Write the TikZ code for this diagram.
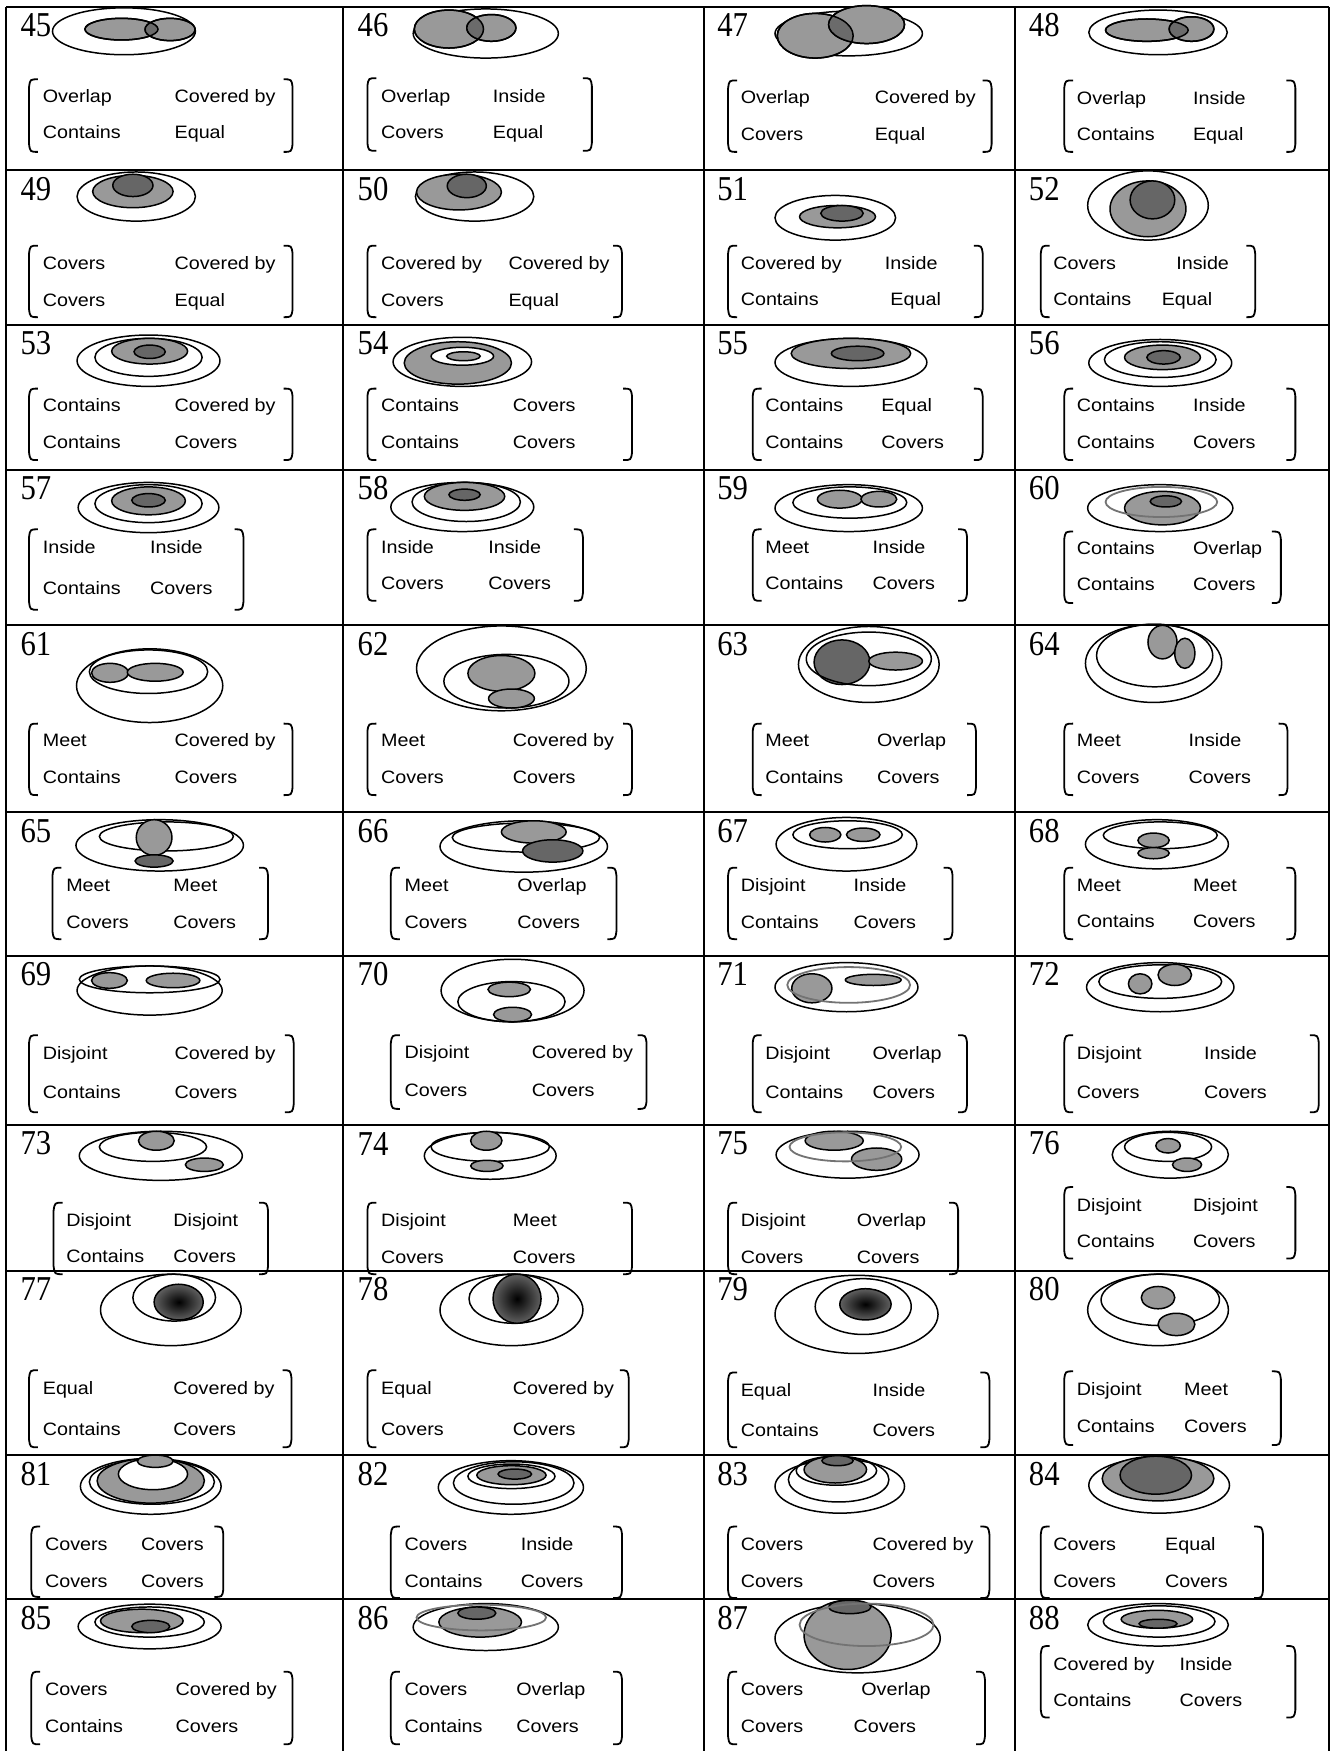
\documentclass[tikz,border=0pt]{standalone}
\usepackage{fontspec}
\newfontfamily\labfont[FakeStretch=1.1]{Liberation Sans}
\newfontfamily\numfont[FakeStretch=0.88]{Liberation Serif}
\tikzset{
 gridline/.style={line width=1pt},
 eo/.style={draw=black,line width=0.75pt},
 eg/.style={draw=black,fill=black!40,line width=0.75pt},
 ed/.style={draw=black,fill=black!60,line width=0.75pt},
 ew/.style={draw=black,fill=white,line width=0.75pt},
 ethin/.style={draw=black!55,line width=0.9pt},
 esh/.style={draw=black,line width=0.75pt,inner color=black,outer color=black!62},
 numst/.style={inner sep=0pt,anchor=west,font=\numfont\fontsize{17.5}{18}\selectfont},
 labst/.style={inner sep=0pt,anchor=base west,font=\labfont\fontsize{9}{10}\selectfont},
 brkst/.style={line width=0.9pt},
}
\newcommand\el[5][eo]{\path[#1] (#2,#3) ellipse [x radius=#4, y radius=#5];}
\newcommand\ovlp[8]{%
 \el[eg]{#1}{#2}{#3}{#4}\el[eg]{#5}{#6}{#7}{#8}%
 \begin{scope}\clip (#1,#2) ellipse [x radius=#3, y radius=#4];
 \fill[black!58] (#5,#6) ellipse [x radius=#7, y radius=#8];\end{scope}%
 \el{#1}{#2}{#3}{#4}\el{#5}{#6}{#7}{#8}}
\newcommand\cnum[3]{\node[numst] (n#1) at (#2,#3) {#1};}
\newcommand\dshift{0}
\newcommand\reltext[9]{%
 \node[labst] (t#1a) at (#2,#4+5.7) {#6};
 \node[labst] (t#1b) at (#3,#4+5.7) {#7};
 \node[labst] (t#1c) at (#2,#5+5.7) {#8};
 \node[labst] (t#1d) at (#3+\dshift,#5+5.7) {#9};}
\newcommand\brk[4]{%
 \draw[brkst] (#1+8,#3) .. controls (#1+1,#3) .. (#1,#3+7) -- (#1,#4-7) .. controls (#1+1,#4) .. (#1+8,#4);
 \draw[brkst] (#2-8,#3) .. controls (#2-1,#3) .. (#2,#3+7) -- (#2,#4-7) .. controls (#2-1,#4) .. (#2-8,#4);}
\begin{document}
\begin{tikzpicture}[x=0.56pt,y=-0.56pt]
\useasboundingbox (0,0) rectangle (1194,1568);
% grid
\foreach \gx in {5.4,307,630,909,1190}{\draw[gridline] (\gx,6) -- (\gx,1568);}
\foreach \gy in {6,152.3,291,420.5,560,727.3,856.3,1007.3,1138,1303.3,1432.3}{\draw[gridline] (5.4,\gy) -- (1190,\gy);}
% numbers
\foreach \nn/\nx/\ny in {45/18/22.5,46/320/22.5,47/642/22.5,48/921/22.5,
 49/18/169,50/320/169,51/642/169,52/921/169,
 53/18/307.5,54/320/307.5,55/642/307.5,56/921/307.5,
 57/18/437,58/320/437,59/642/437,60/921/437,
 61/18/576.5,62/320/576.5,63/642/576.5,64/921/576.5,
 65/18/744,66/320/744,67/642/744,68/921/744,
 69/18/872.5,70/320/872.5,71/642/872.5,72/921/872.5,
 73/18/1024,74/320/1024,75/642/1024,76/921/1024,
 77/18/1154.5,78/320/1154.5,79/642/1154.5,80/921/1154.5,
 81/18/1320,82/320/1320,83/642/1320,84/921/1320,
 85/18/1449,86/320/1449,87/642/1449,88/921/1449}{\cnum{\nn}{\nx}{\ny}}
% ---- row 1
\el{111}{28}{64}{21}\ovlp{108.8}{26.1}{32.7}{9.7}{152.3}{26.4}{22.4}{10}
\el{435}{30}{65}{22}\ovlp{402}{26}{31}{17}{440}{25}{22}{12}
\el{760}{30}{66}{20}\ovlp{730}{32}{34}{20}{776}{22}{34}{17}
\el{1037}{29}{62}{20}\ovlp{1027}{27}{37}{10}{1067}{26}{20}{11}
\reltext{45}{38}{156}{86}{118}{Overlap}{Covered by}{Contains}{Equal}\brk{26}{262}{71}{136}
\reltext{46}{341}{441}{86}{118}{Overlap}{Inside}{Covers}{Equal}\brk{329}{530}{70}{135}
\reltext{47}{663}{783}{87}{120}{Overlap}{Covered by}{Covers}{Equal}\brk{652}{888}{72}{136}
\reltext{48}{964}{1068}{88}{120}{Overlap}{Inside}{Contains}{Equal}\brk{953}{1160}{72}{136}
% ---- row 2
\el{122}{176}{53}{22}\el[eg]{119}{171.5}{36}{14.5}\el[ed]{119}{166}{18}{10}
\el{425}{176}{53}{22}\el[eg]{411}{172}{38}{16}\el[ed]{418}{166.5}{17.5}{10.5}
\el{748}{195}{54}{20}\el[eg]{750}{194}{34}{10}\el[ed]{754}{191}{19}{7}
\el{1028}{184}{54}{31}\el[eg]{1028}{187}{34}{25}\el[ed]{1032}{179}{20}{17}
\reltext{49}{38}{156}{236}{269}{Covers}{Covered by}{Covers}{Equal}\brk{26}{262}{220}{284}
\reltext{50}{341}{455}{236}{269}{Covered by}{Covered by}{Covers}{Equal}\brk{329}{557}{220}{284}
{\renewcommand\dshift{5}\reltext{51}{663}{792}{236}{268}{Covered by}{Inside}{Contains}{Equal}}\brk{652}{880}{220}{284}
{\renewcommand\dshift{-13}\reltext{52}{943}{1053}{236}{268}{Covers}{Inside}{Contains}{Equal}}\brk{932}{1124}{220}{284}
% ---- row 3
\el{133}{323}{64}{23}\el{133}{320}{48}{17}\el[eg]{134}{314.5}{34}{11.5}\el[ed]{134}{315}{14}{6}
\el{414}{324}{62}{22}\el[eg]{410}{325}{48}{19}\el[ew]{414}{319}{28}{8}\el[eg]{415}{319}{15}{4}
\el{762}{324.5}{68}{21.5}\el[eg]{762}{316.5}{53.5}{13.5}\el[ed]{768}{316.5}{23.5}{6.5}
\el{1039}{325}{64}{21}\el{1039}{322}{50}{16}\el[eg]{1041}{320}{34}{11}\el[ed]{1042}{320}{15}{6}
\reltext{53}{38}{156}{363}{396}{Contains}{Covered by}{Contains}{Covers}\brk{26}{262}{348}{412}
\reltext{54}{341}{459}{363}{396}{Contains}{Covers}{Contains}{Covers}\brk{329}{566}{348}{412}
\reltext{55}{685}{789}{363}{396}{Contains}{Equal}{Contains}{Covers}\brk{674}{880}{348}{412}
\reltext{56}{964}{1068}{363}{396}{Contains}{Inside}{Contains}{Covers}\brk{953}{1160}{348}{412}
% ---- row 4
\el{133}{454.5}{63}{22.5}\el{133}{451}{48}{17}\el[eg]{133}{448.5}{33}{12.5}\el[ed]{133}{448}{15}{6}
\el{414}{454}{64}{22}\el{417.5}{449.5}{48.5}{17.5}\el[eg]{416}{444.5}{36}{12.5}\el[ed]{416}{443}{14}{5}
\el{760}{455}{66}{21}\el{761}{450}{51}{14}\el[eg]{752}{447}{20}{8}\el[eg]{787}{447}{16}{7}
\el{1039}{455}{65}{21}\el[eg]{1041}{455}{34}{15}\el[ed]{1044}{449}{14}{5}\el[ethin]{1040}{449.5}{50}{13.5}
\reltext{57}{38}{134}{490}{527}{Inside}{Inside}{Contains}{Covers}\brk{26}{218}{474}{546}
\reltext{58}{341}{437}{490}{522}{Inside}{Inside}{Covers}{Covers}\brk{329}{522}{474}{538}
\reltext{59}{685}{781}{490}{522}{Meet}{Inside}{Contains}{Covers}\brk{674}{866}{474}{538}
\reltext{60}{964}{1068}{491}{523}{Contains}{Overlap}{Contains}{Covers}\brk{953}{1147}{476}{540}
% ---- row 5
\el{134}{614}{65.5}{33}\el{133}{601.5}{53}{19.5}\el[eg]{98.5}{602.5}{16.5}{8.5}\el[eg]{139}{602}{25}{8}
\el{449}{598.5}{76}{38}\el{453.5}{610}{56}{24}\el[eg]{449}{603}{30}{16}\el[eg]{458}{625.5}{20.5}{8.5}
\el{778}{595}{63}{34}\el[ed]{754}{593}{25}{20}\el[eg]{802}{592}{24}{8}\el{778}{590}{56}{24}
\el{1033}{594}{61}{35}\el{1034}{587}{52}{28}\el[eg]{1041}{575}{13}{15}\el[eg]{1061}{585}{9}{13.5}
\reltext{61}{38}{156}{663}{696}{Meet}{Covered by}{Contains}{Covers}\brk{26}{262}{648}{712}
\reltext{62}{341}{459}{663}{696}{Meet}{Covered by}{Covers}{Covers}\brk{329}{566}{648}{712}
\reltext{63}{685}{785}{663}{696}{Meet}{Overlap}{Contains}{Covers}\brk{674}{874}{648}{712}
\reltext{64}{964}{1064}{663}{696}{Meet}{Inside}{Covers}{Covers}\brk{953}{1153}{648}{712}
% ---- row 6
\el{143}{757}{75}{23}\el{149}{749}{60}{13}\el[eg]{138}{750}{16}{16}\el[ed]{138}{771}{17}{5.5}
\el{469}{758}{75}{23}\el{471}{750}{66}{13}\el[eg]{478}{745}{29}{10}\el[ed]{495}{762}{27}{10}
\el{758}{756}{63}{24}\el{759}{747.5}{49}{12.5}\el[eg]{739}{747.5}{14}{6.5}\el[eg]{773}{747.5}{15}{6}
\el{1036}{756}{64}{22}\el{1039}{748}{51}{12}\el[eg]{1033}{752.5}{14}{6.5}\el[eg]{1033}{764}{14}{5}
\reltext{65}{59}{155}{793}{826}{Meet}{Meet}{Covers}{Covers}\brk{47}{240}{777}{841}
\reltext{66}{362}{463}{793}{826}{Meet}{Overlap}{Covers}{Covers}\brk{350}{552}{777}{841}
\reltext{67}{663}{764}{793}{826}{Disjoint}{Inside}{Contains}{Covers}\brk{652}{853}{777}{841}
\reltext{68}{964}{1068}{793}{825}{Meet}{Meet}{Contains}{Covers}\brk{953}{1160}{777}{841}
% ---- row 7
\el{134}{887}{65}{22}\el{134}{877}{63}{12}\el[eg]{98}{878}{16}{7}\el[eg]{155}{878}{24}{6.5}
\el{459}{887}{64}{28}\el{458}{897}{48}{18}\el[eg]{456}{886}{19}{6.5}\el[eg]{459}{908.5}{17}{6.5}
\el{758}{884}{64}{22}\el[eg]{727}{885}{18}{13}\el[eg]{782}{877.5}{25}{5}\el[ethin]{760}{882}{55}{16}
\el{1039}{884}{66}{22}\el{1039}{879}{55}{15}\el[eg]{1021}{881}{10.5}{9}\el[eg]{1052}{873}{15}{9.5}
\reltext{69}{38}{156}{943}{978}{Disjoint}{Covered by}{Contains}{Covers}\brk{26}{263}{927}{996}
\reltext{70}{362}{476}{942}{976}{Disjoint}{Covered by}{Covers}{Covers}\brk{350}{579}{927}{993}
\reltext{71}{685}{781}{943}{978}{Disjoint}{Overlap}{Contains}{Covers}\brk{674}{866}{927}{996}
\reltext{72}{964}{1078}{943}{978}{Disjoint}{Inside}{Covers}{Covers}\brk{953}{1181}{927}{996}
% ---- row 8
\el{144}{1035}{73}{22}\el{137}{1027}{48}{13}\el[eg]{140}{1021.5}{16}{8.5}\el[eg]{183}{1043}{17}{6}
\el{439}{1035}{59}{21}\el{439}{1027}{53}{13}\el[eg]{435.5}{1021.5}{14}{8.5}\el[eg]{436}{1044}{14.5}{5}
\el{759}{1034}{64}{21}\el[eg]{747}{1021.5}{26}{8.5}\el[eg]{785}{1038}{22.5}{10}\el[ethin]{757}{1027}{50}{13}
\el{1048}{1034}{52}{21}\el{1046}{1027}{39}{13}\el[eg]{1046}{1026}{11}{6.5}\el[eg]{1063}{1043}{13}{6}
\reltext{73}{59}{155}{1093}{1125}{Disjoint}{Disjoint}{Contains}{Covers}\brk{48}{240}{1077}{1141}
\reltext{74}{341}{459}{1093}{1126}{Disjoint}{Meet}{Covers}{Covers}\brk{329}{566}{1077}{1141}
\reltext{75}{663}{767}{1093}{1126}{Disjoint}{Overlap}{Covers}{Covers}\brk{652}{858}{1077}{1141}
\reltext{76}{964}{1068}{1079}{1111}{Disjoint}{Disjoint}{Contains}{Covers}\brk{953}{1160}{1063}{1127}
% ---- row 9
\el{153}{1173}{63}{32}\el{156}{1162}{37}{21}\el[esh]{160}{1166}{22}{16}
\el{458}{1173}{64}{32}\el{460}{1163}{40}{22}\el[esh]{463}{1163}{21.5}{22}
\el{767}{1177}{73}{35}\el{773}{1170}{43}{25}\el[esh]{775}{1168}{23}{14}
\el{1037}{1173}{63}{32}\el{1039}{1164}{53}{23}\el[eg]{1037}{1162}{15}{10}\el[eg]{1053.5}{1186}{16.5}{10}
\reltext{77}{38}{155}{1243}{1280}{Equal}{Covered by}{Contains}{Covers}\brk{26}{261}{1227}{1296}
\reltext{78}{341}{459}{1243}{1280}{Equal}{Covered by}{Covers}{Covers}\brk{329}{563}{1227}{1296}
\reltext{79}{663}{781}{1245}{1281}{Equal}{Inside}{Contains}{Covers}\brk{652}{886}{1229}{1296}
\reltext{80}{964}{1060}{1244}{1277}{Disjoint}{Meet}{Contains}{Covers}\brk{953}{1147}{1228}{1294}
% ---- row 10
\el{135}{1331}{63}{25}\el{136}{1327}{56}{20}\el[eg]{135}{1326}{48}{20}\el[ew]{137}{1320}{31}{14}\el[eg]{139}{1308.5}{16}{5.5}
\el{457.5}{1332}{65}{24}\el{460}{1328}{54}{19}\el{458}{1322}{39}{11}\el[eg]{458}{1321}{31}{8.5}\el[ed]{461}{1320}{15}{4.5}
\el{752}{1331}{58}{24}\el{751}{1325}{45}{20}\el{749}{1317}{36}{13}\el[eg]{748}{1316}{28}{12}\el[ed]{750}{1308}{14}{4.5}
\el{1038}{1330}{63}{25}\el[eg]{1037}{1324}{50}{20}\el[ed]{1035}{1321}{32}{17}
\reltext{81}{40}{126}{1383}{1416}{Covers}{Covers}{Covers}{Covers}\brk{28}{200}{1367}{1430}
\reltext{82}{362}{466}{1383}{1416}{Covers}{Inside}{Contains}{Covers}\brk{350}{557}{1367}{1431}
\reltext{83}{663}{781}{1383}{1416}{Covers}{Covered by}{Covers}{Covers}\brk{652}{886}{1367}{1431}
\reltext{84}{943}{1043}{1383}{1416}{Covers}{Equal}{Covers}{Covers}\brk{932}{1131}{1367}{1431}
% ---- row 11
\el{134}{1456.5}{64}{20}\el{134}{1452.5}{49}{13.5}\el[eg]{127}{1451.5}{37}{10.5}\el[ed]{135}{1456.5}{17}{5.5}
\el{435}{1457}{65}{21}\el[eg]{430}{1452.5}{37}{13.5}\el[ed]{427}{1444.5}{17}{5.5}\el[ethin]{431}{1448.5}{58}{11.5}
\el{768}{1467}{74}{31}\el[eg]{759}{1464}{39}{31}\el[ed]{761}{1439}{19}{6}\el[ethin]{776}{1455}{60}{19}
\el{1037}{1455}{63}{19}\el{1038}{1452}{50}{14}\el[eg]{1036}{1450}{32}{8}\el[ed]{1037}{1454}{17}{4}
\reltext{85}{40}{157}{1513}{1546}{Covers}{Covered by}{Contains}{Covers}\brk{28}{262}{1497}{1562}
\reltext{86}{362}{462}{1513}{1546}{Covers}{Overlap}{Contains}{Covers}\brk{350}{557}{1497}{1562}
{\renewcommand\dshift{-7}\reltext{87}{663}{771}{1513}{1546}{Covers}{Overlap}{Covers}{Covers}}\brk{652}{882}{1497}{1562}
\reltext{88}{943}{1056}{1490}{1522}{Covered by}{Inside}{Contains}{Covers}\brk{932}{1160}{1474}{1538}
\end{tikzpicture}
\end{document}
